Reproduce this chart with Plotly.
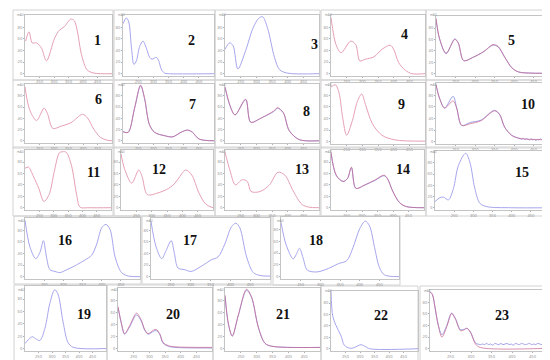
import plotly.graph_objects as go

# ---------------- data (wavelength nm / relative absorbance) ----------------
wl_1 = [202, 214, 225, 240, 257, 274, 302, 319, 336, 358, 370, 381, 392, 404, 415, 438, 500]
a_1 = [56, 72, 53, 53, 44, 22, 61, 75, 81, 94, 91, 72, 39, 17, 6, 1, 0]

wl_2 = [200, 211, 219, 228, 236, 244, 255, 266, 277, 288, 296, 310, 318, 326, 337, 349, 500]
a_2 = [86, 96, 89, 44, 16, 22, 47, 56, 44, 28, 25, 28, 22, 8, 1, 0, 0]

wl_3 = [200, 215, 226, 241, 266, 289, 307, 320, 336, 358, 374, 399, 500]
a_3 = [42, 53, 48, 8, 40, 78, 95, 98, 78, 28, 7, 1, 0]

wl_4 = [200, 205, 216, 232, 263, 279, 292, 310, 337, 363, 389, 400, 416, 437, 458, 500]
a_4 = [97, 78, 50, 36, 56, 50, 22, 25, 29, 42, 49, 42, 19, 6, 0, 0]

wl_5 = [200, 209, 226, 248, 257, 271, 296, 323, 346, 359, 377, 395, 412, 446, 500]
a_5r = [97, 62, 36, 60, 54, 23, 29, 39, 51, 48, 28, 10, 3, 1, 1]
a_5b = [96, 61, 35, 61, 54, 23, 29, 39, 50, 47, 28, 10, 3, 1, 1]

wl_6 = [200, 211, 223, 240, 266, 277, 296, 325, 358, 398, 415, 438, 460, 483, 500]
a_6 = [96, 64, 47, 36, 58, 49, 22, 26, 32, 47, 41, 20, 6, 1, 0]

wl_7 = [200, 217, 238, 258, 271, 287, 304, 337, 364, 391, 413, 429, 451, 500]
a_7r = [16, 15, 58, 99, 76, 29, 15, 9, 7, 15, 19, 15, 3, 0]
a_7b = [16, 15, 57, 98, 75, 29, 15, 9, 7, 15, 19, 15, 3, 0]

wl_8 = [200, 216, 232, 266, 282, 314, 358, 367, 386, 405, 437, 500]
a_8r = [96, 63, 46, 74, 33, 40, 54, 59, 50, 18, 2, 0]
a_8b = [95, 62, 46, 73, 33, 40, 53, 58, 50, 18, 2, 0]

wl_9 = [200, 214, 226, 237, 250, 268, 284, 298, 310, 332, 363, 405, 500]
a_9 = [94, 98, 83, 42, 11, 36, 69, 82, 64, 31, 11, 3, 1]

wl_10 = [200, 209, 222, 244, 253, 266, 288, 315, 350, 363, 376, 394, 412, 500]
a_10r = [98, 75, 58, 70, 58, 28, 31, 36, 53, 47, 25, 11, 6, 3]
wl_10b = [200, 209, 222, 244, 253, 266, 288, 315, 350, 363, 376, 394, 412,
          416, 420, 424, 428, 432, 436, 440, 444, 448, 452, 456, 460, 464,
          468, 472, 476, 480, 484, 488, 492, 496, 500]
a_10b = [98, 75, 58, 78, 58, 28, 33, 37, 54, 47, 25, 11, 6,
         5, 4, 6, 3, 5, 4, 3, 5, 3, 4, 2, 4, 3,
         5, 3, 4, 2, 4, 3, 4, 3, 4]

wl_11 = [200, 212, 230, 248, 266, 284, 302, 320, 332, 344, 362, 380, 392, 422, 500]
a_11 = [69, 71, 54, 34, 11, 23, 63, 96, 98, 97, 74, 23, 1, 0, 0]

wl_12 = [200, 211, 235, 258, 269, 286, 321, 356, 376, 391, 411, 431, 454, 477, 500]
a_12 = [94, 69, 43, 66, 54, 23, 26, 34, 43, 54, 66, 57, 26, 6, 0]

wl_13 = [200, 217, 233, 255, 271, 282, 293, 315, 342, 369, 391, 418, 445, 467, 500]
a_13 = [97, 63, 40, 49, 46, 29, 27, 29, 40, 62, 57, 29, 6, 1, 0]

wl_14 = [200, 217, 239, 253, 266, 280, 310, 343, 371, 382, 399, 421, 443, 500]
a_14r = [97, 57, 46, 51, 71, 34, 40, 49, 57, 51, 29, 9, 2, 0]
a_14b = [96, 56, 46, 51, 70, 34, 40, 48, 56, 51, 29, 9, 2, 0]

wl_15 = [200, 213, 222, 235, 248, 261, 280, 291, 304, 317, 335, 400, 500]
a_15 = [11, 18, 19, 14, 34, 75, 97, 81, 34, 8, 2, 0, 0]

wl_16 = [200, 213, 228, 239, 248, 256, 265, 278, 291, 309, 331, 357, 374, 387, 400, 411, 422, 435, 452, 470, 500]
a_16 = [97, 51, 31, 42, 62, 34, 12, 9, 7, 12, 19, 29, 37, 56, 84, 90, 81, 34, 7, 1, 0]

wl_17 = [200, 213, 227, 238, 251, 259, 268, 285, 301, 327, 352, 369, 386, 403, 414, 424, 441, 458, 475, 500]
a_17 = [95, 51, 31, 45, 62, 40, 15, 12, 9, 18, 29, 34, 56, 86, 92, 84, 34, 7, 2, 1]

wl_18 = [200, 213, 231, 239, 247, 256, 267, 292, 321, 346, 367, 383, 400, 414, 425, 438, 450, 463, 500]
a_18 = [92, 54, 30, 38, 48, 32, 11, 8, 14, 22, 27, 49, 81, 94, 86, 49, 16, 3, 0]

wl_19 = [200, 212, 227, 239, 255, 274, 292, 310, 322, 341, 359, 378, 500]
a_19 = [8, 14, 19, 16, 13, 33, 73, 95, 88, 43, 10, 2, 0]

wl_20 = [200, 211, 221, 237, 259, 274, 285, 296, 314, 322, 333, 344, 360, 381, 500]
a_20b = [69, 41, 24, 36, 56, 46, 31, 24, 29, 30, 24, 9, 4, 2, 1]
a_20r = [70, 42, 25, 38, 59, 48, 32, 25, 31, 32, 25, 10, 5, 3, 2]

wl_21 = [200, 211, 223, 242, 268, 284, 305, 326, 347, 500]
a_21r = [89, 41, 21, 56, 99, 86, 36, 9, 4, 2]
a_21b = [88, 40, 21, 55, 97, 85, 36, 9, 4, 2]

wl_22 = [200, 206, 217, 235, 246, 264, 275, 292, 304, 318, 333, 500]
a_22 = [100, 57, 41, 22, 6, 1, 1, 5, 7, 4, 0, 0]

wl_23 = [200, 206, 212, 220, 229, 241, 249, 253, 262, 274, 282, 290, 299, 311, 323, 500]
a_23r = [98, 93, 72, 41, 20, 38, 56, 61, 51, 31, 32, 35, 28, 8, 2, 1]
wl_23b = [200, 206, 212, 220, 229, 241, 249, 253, 262, 274, 282, 290, 299, 311, 323,
          328, 333, 338, 343, 348, 353, 358, 363, 368, 373, 378, 383, 388, 393, 398,
          403, 408, 413, 418, 423, 428, 433, 438, 443, 448, 453, 458, 463, 468, 473,
          478, 483, 488, 493, 500]
a_23b = [98, 93, 72, 41, 24, 40, 57, 61, 52, 33, 33, 35, 28, 10, 7,
         8, 7, 9, 7, 8, 6, 9, 8, 7, 9, 7, 8, 9, 7, 8,
         6, 9, 8, 7, 9, 8, 7, 8, 9, 7, 8, 7, 9, 8, 7,
         9, 8, 7, 8, 8]

panel_labels = [str(i) for i in range(1, 24)]

# series per panel: (x, y, colour key)
SERIES = {
    1: [(wl_1, a_1, "r")], 2: [(wl_2, a_2, "b")], 3: [(wl_3, a_3, "b")],
    4: [(wl_4, a_4, "r")], 5: [(wl_5, a_5b, "b2"), (wl_5, a_5r, "r2")],
    6: [(wl_6, a_6, "r")], 7: [(wl_7, a_7b, "b2"), (wl_7, a_7r, "r2")],
    8: [(wl_8, a_8b, "b2"), (wl_8, a_8r, "r2")], 9: [(wl_9, a_9, "r")],
    10: [(wl_10b, a_10b, "b2"), (wl_10, a_10r, "r2")],
    11: [(wl_11, a_11, "r")], 12: [(wl_12, a_12, "r")], 13: [(wl_13, a_13, "r")],
    14: [(wl_14, a_14b, "b2"), (wl_14, a_14r, "r2")], 15: [(wl_15, a_15, "b")],
    16: [(wl_16, a_16, "b")], 17: [(wl_17, a_17, "b")], 18: [(wl_18, a_18, "b")],
    19: [(wl_19, a_19, "b")], 20: [(wl_20, a_20b, "b2"), (wl_20, a_20r, "r2")],
    21: [(wl_21, a_21b, "b2"), (wl_21, a_21r, "r2")], 22: [(wl_22, a_22, "b")],
    23: [(wl_23b, a_23b, "b2"), (wl_23, a_23r, "r2")],
}

# ---------------- layout geometry (pixels) ----------------
W, H = 550, 360
OUTER = [
    (5, 2, 105, 72), (106, 2, 207, 72), (207, 2, 312, 72), (313, 2, 418, 72), (418, 2, 548, 72),
    (5, 72, 105, 140), (106, 72, 207, 140), (207, 72, 312, 140), (313, 72, 418, 140), (418, 72, 548, 140),
    (5, 139, 105, 208), (106, 139, 207, 208), (207, 139, 312, 208), (313, 139, 418, 208), (418, 139, 548, 208),
    (6, 208, 133, 276), (134, 208, 263, 276), (265, 208, 392, 277),
    (6, 277, 99, 354), (99, 277, 205, 354), (205, 277, 313, 354), (313, 278, 410, 354), (412, 278, 547, 354),
]
INNER = [
    (17, 7, 104, 68), (115, 7, 206, 68), (217, 7, 311, 68), (323, 7, 417, 68), (428, 8, 545, 68),
    (17, 76, 104, 135), (115, 76, 206, 135), (217, 76, 311, 135), (323, 75, 417, 136), (428, 75, 545, 136),
    (17, 142, 103, 202), (113, 142, 205, 202), (217, 142, 311, 202), (323, 142, 416, 202), (427, 143, 542, 202),
    (17, 210, 132, 271), (143, 210, 262, 271), (273, 209, 391, 271),
    (17, 278, 98, 343), (110, 280, 204, 343), (217, 280, 312, 343), (323, 283, 410, 343), (422, 282, 545, 343),
]
LABEL_POS = [
    (89, 32), (183, 32), (306, 37), (396, 27), (503, 32),
    (90, 91), (184, 97), (298, 103), (393, 97), (520, 97),
    (85, 165), (151, 161), (294, 161), (395, 162), (514, 165),
    (57, 232), (182, 232), (308, 232),
    (76, 306), (165, 306), (275, 306), (373, 307), (494, 307),
]

COL = {"r": "#e6a0b3", "b": "#a6a6ee",
       "r2": "rgba(200,100,140,0.7)", "b2": "rgba(140,140,225,0.8)"}

fig = go.Figure()
layout = dict(width=W, height=H, margin=dict(l=0, r=0, t=0, b=0),
              paper_bgcolor="white", plot_bgcolor="white", showlegend=False)
shapes, annotations = [], []

for i in range(1, 24):
    xa = "x" if i == 1 else f"x{i}"
    ya = "y" if i == 1 else f"y{i}"
    for (xs, ys, c) in SERIES[i]:
        fig.add_trace(go.Scatter(x=xs, y=ys, mode="lines", xaxis=xa, yaxis=ya,
                                 line=dict(color=COL[c], width=1, shape="spline", smoothing=0.9),
                                 hoverinfo="skip"))
    x0, y0, x1, y1 = INNER[i - 1]
    axstyle = dict(showline=True, linecolor="#c4c4c4", linewidth=1, mirror=True,
                   showgrid=False, zeroline=False, ticks="outside", ticklen=1,
                   tickcolor="#b0b0b0", tickfont=dict(size=4, color="#8a8a8a"))
    layout["xaxis" if i == 1 else f"xaxis{i}"] = dict(
        domain=[x0 / W, x1 / W], range=[200, 500],
        tickvals=[250, 300, 350, 400, 450], anchor=ya, **axstyle)
    layout["yaxis" if i == 1 else f"yaxis{i}"] = dict(
        domain=[1 - y1 / H, 1 - y0 / H], range=[-4, 101],
        tickvals=[0, 20, 40, 60, 80], anchor=xa, **axstyle)
    ox0, oy0, ox1, oy1 = OUTER[i - 1]
    shapes.append(dict(type="rect", xref="paper", yref="paper",
                       x0=ox0 / W, x1=ox1 / W, y0=1 - oy1 / H, y1=1 - oy0 / H,
                       line=dict(color="#d2d2d2", width=1), fillcolor="rgba(0,0,0,0)", layer="below"))
    annotations.append(dict(xref="paper", yref="paper", x=(ox0 + 2) / W, y=1 - (oy0 + 1) / H,
                            xanchor="left", yanchor="top", text="mAU", showarrow=False,
                            font=dict(size=3, color="#8a8a8a")))
    lx, ly = LABEL_POS[i - 1]
    annotations.append(dict(xref="paper", yref="paper", x=lx / W, y=1 - ly / H,
                            xanchor="center", yanchor="middle", text=f"<b>{panel_labels[i-1]}</b>",
                            showarrow=False,
                            font=dict(size=14, color="#111", family="Liberation Serif, DejaVu Serif, serif")))

layout["shapes"] = shapes
layout["annotations"] = annotations
fig.update_layout(**layout)
fig.write_html("out.html")
